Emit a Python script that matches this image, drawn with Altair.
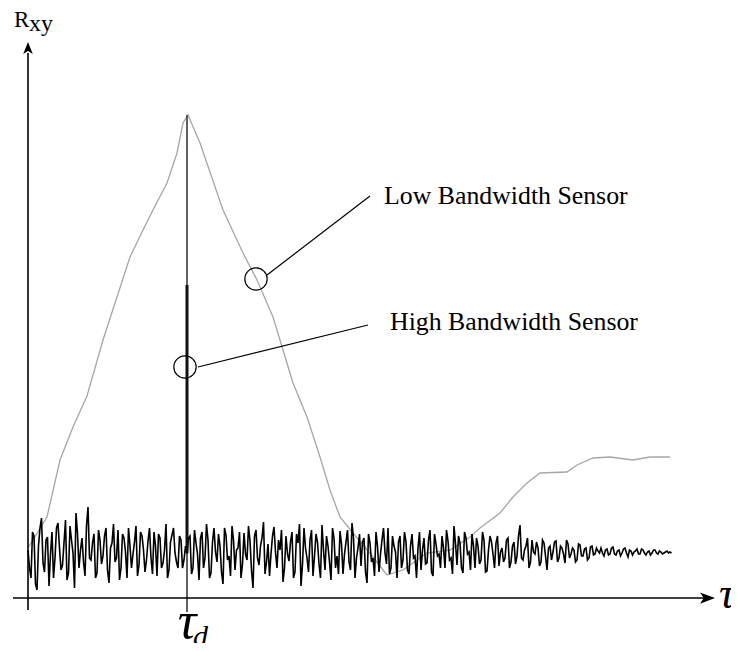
import altair as alt
import pandas as pd

# ---------------- data (tau = horizontal lag, R = correlation, both in plot units) -------------
# Low-bandwidth sensor correlation (gray curve)
low_tau = [0, 19, 32, 45, 59, 75, 89, 102, 115, 125, 139, 149, 155, 160,
           172, 195, 215, 229, 245, 255, 265, 279, 292, 302, 312, 325, 345, 359,
           375, 399, 422, 442, 452, 472, 485, 499, 512, 539, 549, 565, 582, 605, 622, 642]
low_R = [50, 81, 138, 171, 202, 258, 301, 341, 368, 388, 415, 445, 475, 483,
         455, 388, 345, 318, 281, 248, 215, 181, 141, 108, 81, 65, 41, 23,
         28, 45, 48, 61, 70, 85, 101, 115, 125, 126, 133, 140, 141, 138, 141, 141]

# High-bandwidth sensor correlation (black noisy trace): two interleaved sample sets
noise_a = [48, 20, 62, 8, 70, 35, 58, 12, 66, 40, 75, 28, 55, 18, 72, 45, 85, 30, 60, 22, 91]
noise_b = [38, 64, 25, 58, 42, 70, 15, 55, 36, 68, 30, 60, 20, 52, 44, 72, 33, 62, 26, 57,
           40, 66, 22, 60, 35, 74, 28, 63, 45, 30]
noise_peak = [58, 38, 44]
noise_c = [62, 30, 55, 18, 66, 40, 58, 25, 70, 36, 52, 14, 63, 42, 72, 28, 50, 20, 65, 38,
           57, 10, 68, 33, 60, 24, 54, 44, 71, 30, 48, 16, 62, 37, 66, 26, 55, 12, 70, 40,
           58, 22, 64, 34, 73, 28, 52, 18, 60, 42, 67, 24, 56, 36, 75, 20, 50]
noise_d = [32, 60, 15, 55, 40, 66, 26, 58, 45, 70, 30, 52, 20, 62, 38, 56, 24, 64, 42, 50,
           28, 60, 35, 68, 22, 54, 44, 62, 30, 57, 40, 72, 33, 55, 25, 60, 46, 64, 30, 52,
           38, 58, 27, 62, 44, 55, 32, 50, 40, 60]
noise_e = [36, 56, 42, 73, 38, 52, 30, 58, 44, 50, 36, 55, 28, 52, 46, 57, 40, 50, 35, 54,
           44, 48, 38, 53, 42, 50, 40, 52, 44, 47]
noise_f = [50, 42, 49, 44, 51, 43, 48, 45, 50, 41, 47, 46, 49, 44, 48, 43, 47, 45, 48, 44,
           46, 45, 47, 46]

noise_a2 = [30, 66, 14, 52, 80, 26, 61, 44, 20, 70, 50, 33, 78, 25, 58, 10, 64, 48, 36, 72, 40]
noise_b2 = [55, 20, 68, 34, 62, 28, 50, 74, 40, 18, 64, 46, 70, 30, 56, 22, 66, 48, 38, 70,
            24, 52, 64, 30, 48, 20, 56, 70, 36, 62]
noise_peak2 = [30, 52, 60]
noise_c2 = [24, 68, 44, 60, 30, 74, 20, 56, 46, 64, 26, 70, 38, 22, 58, 48, 66, 34, 44, 72,
            28, 62, 40, 52, 76, 36, 22, 62, 46, 58, 68, 30, 44, 56, 20, 64, 74, 34, 50, 26,
            68, 42, 56, 20, 48, 62, 36, 70, 30, 24, 54, 44, 68, 28, 60, 40, 64]
noise_d2 = [56, 26, 64, 36, 22, 52, 44, 70, 34, 24, 62, 46, 56, 30, 66, 28, 52, 40, 20, 66,
            48, 34, 58, 26, 64, 42, 30, 50, 68, 38, 24, 54, 62, 30, 66, 44, 28, 52, 60, 34,
            66, 26, 48, 56, 30, 62, 46, 36, 58, 30]
noise_e2 = [52, 34, 62, 40, 48, 60, 36, 46, 56, 32, 58, 42, 50, 38, 56, 36, 52, 44, 58, 40,
            50, 36, 54, 42, 49, 38, 51, 43, 50, 45]
noise_f2 = [45, 48, 43, 50, 44, 47, 42, 49, 45, 48, 43, 47, 44, 49, 45, 46, 43, 48, 45, 47,
            44, 46, 45, 45]

set1 = noise_a + noise_b + noise_peak + noise_c + noise_d + noise_e + noise_f
set2 = noise_a2 + noise_b2 + noise_peak2 + noise_c2 + noise_d2 + noise_e2 + noise_f2
step = 3
high_tau, high_R = [], []
for k, (v1, v2) in enumerate(zip(set1, set2)):
    high_tau += [k * step, k * step + step / 2]
    high_R += [v1, v2]

# delay and peaks
tau_d = 159
low_peak = 483
high_peak = 313
high_peak_base = 45

# labels
label_low = "Low Bandwidth Sensor"
label_high = "High Bandwidth Sensor"

# ---------------- chart ----------------
xs = alt.Scale(domain=[-20, 703], nice=False, zero=False)
ys = alt.Scale(domain=[-45, 590], nice=False, zero=False)


def X(f="tau"):
    return alt.X(f, type="quantitative", scale=xs, axis=None)


def Y(f="R"):
    return alt.Y(f, type="quantitative", scale=ys, axis=None)


low_df = pd.DataFrame({"tau": low_tau, "R": low_R, "i": range(len(low_tau))})
high_df = pd.DataFrame({"tau": high_tau, "R": high_R, "i": range(len(high_tau))})

axes_df = pd.DataFrame({
    "tau": [0, -15], "tau2": [0, 684], "R": [-12, 0], "R2": [545, 0]
})
axes = alt.Chart(axes_df).mark_rule(color="black", strokeWidth=1.6).encode(
    x=X(), x2="tau2", y=Y(), y2="R2")

up_head = alt.Chart(pd.DataFrame({"tau": [0], "R": [556]})).mark_point(
    shape="M0,0 L-0.8,2 L0,1.5 L0.8,2 Z", size=144, filled=True, color="black",
    opacity=1).encode(x=X(), y=Y())
right_head = alt.Chart(pd.DataFrame({"tau": [687], "R": [0]})).mark_point(
    shape="M0,0 L-2,-0.75 L-1.5,0 L-2,0.75 Z", size=225, filled=True, color="black",
    opacity=1).encode(x=X(), y=Y())

low_line = alt.Chart(low_df).mark_line(color="#a6a6a6", strokeWidth=1.3).encode(
    x=X(), y=Y(), order="i:Q")
high_line = alt.Chart(high_df).mark_line(color="#000000", strokeWidth=1.6).encode(
    x=X(), y=Y(), order="i:Q")

peak_rule = alt.Chart(pd.DataFrame({"tau": [tau_d], "R": [-14], "R2": [low_peak]})).mark_rule(
    color="#3a3a3a", strokeWidth=1.6).encode(x=X(), y=Y(), y2="R2")
spike_rule = alt.Chart(pd.DataFrame({"tau": [tau_d], "R": [high_peak_base], "R2": [high_peak]})).mark_rule(
    color="#111111", strokeWidth=3).encode(x=X(), y=Y(), y2="R2")

circles = alt.Chart(pd.DataFrame({"tau": [228, 157], "R": [319, 231]})).mark_point(
    shape="circle", size=500, filled=False, color="black", strokeWidth=1.2,
    opacity=1).encode(x=X(), y=Y())
leaders = alt.Chart(pd.DataFrame({
    "tau": [239, 170], "tau2": [342, 340], "R": [323, 231], "R2": [402, 273]
})).mark_rule(color="black", strokeWidth=1.2).encode(x=X(), x2="tau2", y=Y(), y2="R2")

labels = alt.Chart(pd.DataFrame({
    "tau": [356, 362], "R": [394, 268], "text": [label_low, label_high]
})).mark_text(font="Liberation Serif", fontSize=25.8, align="left", baseline="alphabetic",
              color="black").encode(x=X(), y=Y(), text="text:N")

r_label = alt.Chart(pd.DataFrame({"tau": [-14], "R": [571], "text": ["R"]})).mark_text(
    font="Liberation Serif", fontSize=23, align="left", baseline="alphabetic",
    color="black").encode(x=X(), y=Y(), text="text:N")
xy_label = alt.Chart(pd.DataFrame({"tau": [1], "R": [567], "text": ["xy"]})).mark_text(
    font="Liberation Serif", fontSize=24, align="left", baseline="alphabetic",
    color="black").encode(x=X(), y=Y(), text="text:N")

tau_d_label = alt.Chart(pd.DataFrame({"tau": [tau_d], "R": [-40], "text": ["τ"]})).mark_text(
    font="Liberation Serif", fontSize=52, fontStyle="italic", align="center",
    baseline="alphabetic", color="black").encode(x=X(), y=Y(), text="text:N")
tau_axis_label = alt.Chart(pd.DataFrame({"tau": [691], "R": [-10], "text": ["τ"]})).mark_text(
    font="Liberation Serif", fontSize=44, fontStyle="italic", align="left",
    baseline="alphabetic", color="black").encode(x=X(), y=Y(), text="text:N")
d_label = alt.Chart(pd.DataFrame({"tau": [165], "R": [-48], "text": ["d"]})).mark_text(
    font="Liberation Serif", fontSize=30, fontStyle="italic", align="left",
    baseline="alphabetic", color="black").encode(x=X(), y=Y(), text="text:N")

chart = alt.layer(
    low_line, high_line, peak_rule, spike_rule, axes, up_head, right_head,
    circles, leaders, labels, r_label, xy_label, tau_d_label, tau_axis_label, d_label
).properties(
    width=723, height=635, autosize=alt.AutoSizeParams(type="none"), padding=0,
    background="white"
).configure_view(stroke=None)

chart.save("out.html", embed_options={"renderer": "svg", "actions": False})
